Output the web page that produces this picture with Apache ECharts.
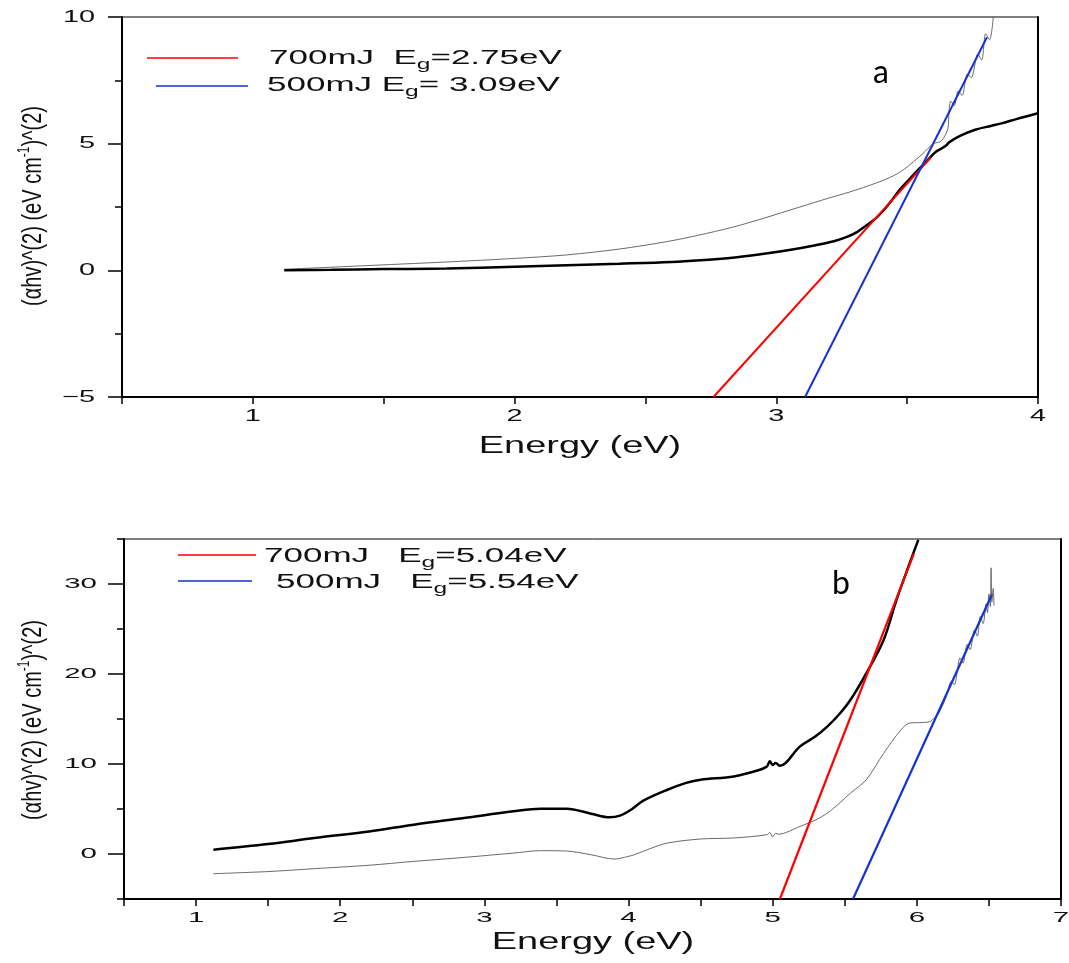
<!DOCTYPE html>
<html><head><meta charset="utf-8">
<script src="https://cdn.jsdelivr.net/npm/echarts@6/dist/echarts.min.js"></script>
<style>html,body{margin:0;padding:0;background:#fff}#c{width:1069px;height:963px}</style>
</head><body><div id="c"></div>
<script>
// ---------- Panel a data ----------
const aX700 = [1.12, 1.3, 1.5, 1.74, 2.0, 2.2, 2.4, 2.6, 2.71, 2.85, 2.96, 3.05, 3.15, 3.22, 3.27, 3.31, 3.345, 3.38, 3.41, 3.44, 3.47, 3.50, 3.54, 3.57, 3.59, 3.61, 3.63, 3.65, 3.66, 3.70, 3.76, 3.82, 3.86, 3.92, 4.0];
const aY700 = [0.0, 0.02, 0.05, 0.07, 0.14, 0.2, 0.26, 0.33, 0.40, 0.52, 0.66, 0.8, 0.99, 1.15, 1.32, 1.52, 1.78, 2.05, 2.37, 2.75, 3.16, 3.5, 3.95, 4.25, 4.48, 4.68, 4.8, 4.94, 5.05, 5.3, 5.55, 5.7, 5.8, 5.98, 6.2];
const aX500 = [1.12, 1.4, 1.74, 2.0, 2.2, 2.4, 2.58, 2.7, 2.836, 2.95, 3.09, 3.2, 3.28, 3.35, 3.41, 3.46, 3.50, 3.56, 3.60, 3.63, 3.656, 3.66, 3.667, 3.68, 3.695, 3.71, 3.73, 3.745, 3.77, 3.785, 3.80, 3.815, 3.83];
const aY500 = [0.04, 0.17, 0.33, 0.47, 0.61, 0.84, 1.13, 1.38, 1.71, 2.05, 2.5, 2.85, 3.09, 3.33, 3.56, 3.8, 4.08, 4.61, 5.0, 5.1, 5.61, 6.28, 6.68, 6.5, 7.08, 6.9, 7.75, 7.6, 8.54, 8.3, 9.34, 9.1, 10.1];
const aFit700 = [[2.76, -5], [3.59, 4.45]];
const aFit500 = [[3.11, -5], [3.805, 9.2]];
const aXTicks = [1, 2, 3, 4];
const aYTicks = [-5, 0, 5, 10];

// ---------- Panel b data ----------
const bX700 = [1.12, 1.5, 1.82, 2.2, 2.51, 2.86, 3.2, 3.39, 3.57, 3.74, 3.87, 3.94, 4.02, 4.1, 4.27, 4.4, 4.5, 4.73, 4.9, 4.96, 4.98, 5.0, 5.02, 5.05, 5.19, 5.3, 5.38, 5.46, 5.54, 5.65, 5.77, 5.86, 5.95, 6.01];
const bY700 = [0.48, 1.1, 1.77, 2.5, 3.26, 4.0, 4.74, 5.03, 5.03, 4.48, 4.07, 4.26, 4.95, 5.9, 7.14, 7.9, 8.26, 8.62, 9.3, 9.73, 10.3, 9.9, 10.1, 9.8, 11.96, 13.1, 14.18, 15.5, 17.14, 20.1, 23.8, 28.3, 32.3, 34.9];
const bX500 = [1.12, 1.5, 1.82, 2.2, 2.51, 2.86, 3.2, 3.39, 3.57, 3.74, 3.90, 3.95, 4.04, 4.15, 4.27, 4.5, 4.73, 4.96, 4.98, 5.0, 5.02, 5.04, 5.19, 5.3, 5.38, 5.46, 5.54, 5.65, 5.77, 5.89, 5.95, 6.02, 6.09, 6.12, 6.15, 6.2, 6.24, 6.26, 6.3, 6.32, 6.35, 6.37, 6.40, 6.42, 6.44, 6.46, 6.48, 6.49, 6.50, 6.51, 6.515, 6.52, 6.53, 6.535];
const bY500 = [-2.19, -1.95, -1.63, -1.25, -0.82, -0.38, 0.1, 0.37, 0.33, -0.08, -0.56, -0.45, -0.08, 0.6, 1.22, 1.67, 1.78, 2.14, 2.4, 1.9, 2.3, 2.2, 3.07, 3.8, 4.55, 5.6, 6.77, 8.26, 11.2, 13.8, 14.55, 14.6, 14.7, 15.1, 15.6, 17.3, 19.2, 18.8, 21.8, 21.2, 23.3, 22.7, 24.9, 24.2, 26.4, 25.6, 27.8, 26.8, 28.9, 27.5, 31.8, 28.0, 29.5, 27.6];
const bFit700 = [[5.05, -5], [5.98, 33.4]];
const bFit500 = [[5.557, -5], [6.52, 28.8]];
const bXTicks = [1, 2, 3, 4, 5, 6, 7];
const bYTicks = [0, 10, 20, 30];

const zip = (xs, ys) => xs.map((x, i) => [x, ys[i]]);
const FONT = '"Liberation Sans", Arial, sans-serif';
const BLACK = '#000';

function xAxis(grid, min, max) {
  return {
    type: 'value', gridIndex: grid, min: min, max: max, interval: 0.5, position: 'bottom',
    axisLine: { show: true, onZero: false, lineStyle: { color: BLACK, width: 2 } },
    axisTick: { show: true, inside: false, length: 7, lineStyle: { color: BLACK, width: 1.5 } },
    axisLabel: { show: false }, splitLine: { show: false }
  };
}
function curve(name, xi, yi, data, color, width, smooth) {
  return { name: name, type: 'line', xAxisIndex: xi, yAxisIndex: yi, data: data, symbol: 'none',
    smooth: smooth, lineStyle: { color: color, width: width }, clip: true, silent: true };
}

const option = {
  animation: false,
  backgroundColor: '#fff',
  grid: [
    { left: 122, top: 17, width: 916, height: 380, show: true, borderColor: BLACK, borderWidth: 1, backgroundColor: 'transparent' },
    { left: 124, top: 539, width: 937, height: 360, show: true, borderColor: BLACK, borderWidth: 1, backgroundColor: 'transparent' }
  ],
  xAxis: [xAxis(0, 0.5, 4), xAxis(1, 0.5, 7)],
  yAxis: [
    { type: 'value', gridIndex: 0, min: -5, max: 10, interval: 5, position: 'left',
      axisLine: { show: true, onZero: false, lineStyle: { color: BLACK, width: 2 } },
      axisTick: { show: true, length: 14, lineStyle: { color: BLACK, width: 1.5 } },
      minorTick: { show: true, splitNumber: 2, length: 7, lineStyle: { color: BLACK, width: 1.5 } },
      axisLabel: { show: false }, splitLine: { show: false }, minorSplitLine: { show: false } },
    { type: 'value', gridIndex: 1, min: -5, max: 35, interval: 5, position: 'left',
      axisLine: { show: true, onZero: false, lineStyle: { color: BLACK, width: 2 } },
      axisTick: { show: true, length: 7, lineStyle: { color: BLACK, width: 1.5 } },
      axisLabel: { show: false }, splitLine: { show: false } },
    { type: 'value', gridIndex: 1, min: -5, max: 35, interval: 5, position: 'left',
      axisLine: { show: false, onZero: false },
      axisTick: { show: true, length: 16, customValues: bYTicks, lineStyle: { color: BLACK, width: 1.5 } },
      axisLabel: { show: false }, splitLine: { show: false } },
    { type: 'value', gridIndex: 0, min: -5, max: 10, interval: 5, position: 'right',
      axisLine: { show: true, onZero: false, lineStyle: { color: BLACK, width: 2 } },
      axisTick: { show: false }, axisLabel: { show: false }, splitLine: { show: false } },
    { type: 'value', gridIndex: 1, min: -5, max: 35, interval: 5, position: 'right',
      axisLine: { show: true, onZero: false, lineStyle: { color: BLACK, width: 2 } },
      axisTick: { show: false }, axisLabel: { show: false }, splitLine: { show: false } }
  ],
  series: [
    curve('500mJ', 0, 0, zip(aX500, aY500), '#6a6a6a', 1, 0.3),
    curve('700mJ', 0, 0, zip(aX700, aY700), '#000', 2.5, 0.35),
    curve('700mJ Eg=2.75eV', 0, 0, aFit700, '#ff0000', 2, false),
    curve('500mJ Eg=3.09eV', 0, 0, aFit500, '#1632d0', 2, false),
    curve('500mJ b', 1, 1, zip(bX500, bY500), '#6a6a6a', 1, 0.3),
    curve('700mJ b', 1, 1, zip(bX700, bY700), '#000', 2.5, 0.35),
    curve('700mJ Eg=5.04eV', 1, 1, bFit700, '#ff0000', 2.2, false),
    curve('500mJ Eg=5.54eV', 1, 1, bFit500, '#1632d0', 2.2, false)
  ]
};

const chart = echarts.init(document.getElementById('c'), null, { renderer: 'canvas' });
chart.setOption(option);

function txt(x, y, text, size, opts) {
  opts = opts || {};
  const st = {
    text: text, x: 0, y: 0,
    font: size + 'px ' + (opts.family || FONT), fontSize: size, fontFamily: opts.family || FONT,
    fill: opts.fill || '#111',
    align: opts.align || 'center', textAlign: opts.align || 'center',
    verticalAlign: 'middle', textVerticalAlign: 'middle'
  };
  if (opts.lineHeight) st.lineHeight = opts.lineHeight;
  if (opts.rich) st.rich = opts.rich;
  return { type: 'text', x: x, y: y, scaleX: opts.sx || 1, scaleY: opts.sy || 1, rotation: opts.rot || 0, silent: true, z: 100, style: st };
}
const fmt = v => (v < 0 ? '\u2212' + Math.abs(v) : String(v));
const subRich = { sub: { font: '14px ' + FONT, fontSize: 14, fontFamily: FONT, lineHeight: 12, verticalAlign: 'bottom', fill: '#111' } };
const supRich = { sup: { font: '12px ' + FONT, fontSize: 12, fontFamily: FONT, lineHeight: 10, verticalAlign: 'top', fill: '#111' } };

const g = [];
// tick labels panel a
aXTicks.forEach(v => g.push(txt(chart.convertToPixel({ xAxisIndex: 0 }, v), 416, fmt(v), 16.5, { sx: 1.75 })));
aYTicks.forEach(v => g.push(txt(95, chart.convertToPixel({ yAxisIndex: 0 }, v), fmt(v), 16.5, { sx: 1.75, align: 'right' })));
// tick labels panel b
bXTicks.forEach(v => g.push(txt(chart.convertToPixel({ xAxisIndex: 1 }, v), 918, fmt(v), 15.5, { sx: 1.9 })));
bYTicks.forEach(v => g.push(txt(97, chart.convertToPixel({ yAxisIndex: 1 }, v), fmt(v), 15.5, { sx: 1.9, align: 'right' })));
// axis titles
g.push(txt(580, 447, 'Energy (eV)', 23, { sx: 1.65 }));
g.push(txt(593, 943, 'Energy (eV)', 23, { sx: 1.65 }));
const yTitle = '(\u03b1hv)^(2) (eV cm{sup|-1})^(2)';
g.push(txt(33, 206, yTitle, 20, { rot: Math.PI / 2, sy: 1.4, rich: supRich, lineHeight: 24 }));
g.push(txt(33, 720, yTitle, 20, { rot: Math.PI / 2, sy: 1.4, rich: supRich, lineHeight: 24 }));
// legends (text)
g.push(txt(269, 58, '700mJ  E{sub|g}=2.75eV', 20, { sx: 1.75, align: 'left', rich: subRich, lineHeight: 28 }));
g.push(txt(267, 85, '500mJ E{sub|g}= 3.09eV', 20, { sx: 1.75, align: 'left', rich: subRich, lineHeight: 28 }));
g.push(txt(264, 556, '700mJ   E{sub|g}=5.04eV', 20, { sx: 1.75, align: 'left', rich: subRich, lineHeight: 28 }));
g.push(txt(276, 582, '500mJ   E{sub|g}=5.54eV', 20, { sx: 1.75, align: 'left', rich: subRich, lineHeight: 28 }));
// legend line samples
const lseg = (x1, y, x2, c) => ({ type: 'line', silent: true, z: 100, shape: { x1: x1, y1: y, x2: x2, y2: y }, style: { stroke: c, lineWidth: 1.6 } });
g.push(lseg(147, 58, 238, '#ff0000'));
g.push(lseg(156, 86, 248, '#1632d0'));
g.push(lseg(178, 555, 256, '#ff0000'));
g.push(lseg(178, 581, 252, '#1632d0'));
// panel letters
g.push(txt(881, 73, 'a', 32, { family: 'Lato, "Open Sans", sans-serif', fill: '#000' }));
g.push(txt(841, 584, 'b', 32, { family: 'Lato, "Open Sans", sans-serif', fill: '#000' }));

chart.setOption({ graphic: g });
</script>
</body></html>
